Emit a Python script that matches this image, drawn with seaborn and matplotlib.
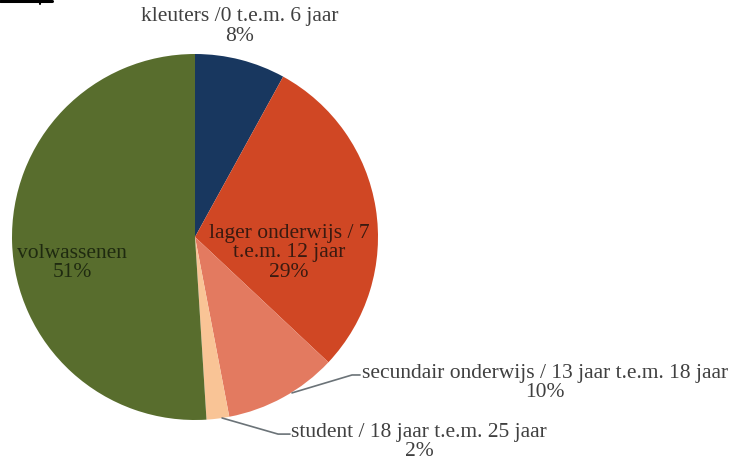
import matplotlib
matplotlib.use("Agg")
import matplotlib.pyplot as plt
import seaborn as sns

# Age groups and their shares (percent)
categories = [
    "kleuters /0 t.e.m. 6 jaar",
    "lager onderwijs / 7\nt.e.m. 12 jaar",
    "secundair onderwijs / 13 jaar t.e.m. 18 jaar",
    "student / 18 jaar t.e.m. 25 jaar",
    "volwassenen",
]
shares = [8, 29, 10, 2, 51]
slice_colors = ["#18375f", "#d04724", "#e37a60", "#f9c496", "#586d2d"]

sns.set_theme(style="white")
plt.rcParams["font.family"] = ["Liberation Serif", "DejaVu Serif"]

W, H = 734, 461
fig = plt.figure(figsize=(W / 100, H / 100), dpi=100)

# pie centre at (195, 237) px, radius 183 px
cx, cy, r = 195, 237, 183
ax = fig.add_axes([(cx - r) / W, (H - cy - r) / H, 2 * r / W, 2 * r / H])

wedges, _ = ax.pie(shares, colors=slice_colors, startangle=90, counterclock=False,
                   radius=1.0, wedgeprops=dict(linewidth=0))
ax.set_xlim(-1, 1)
ax.set_ylim(-1, 1)
ax.set_aspect("equal")
ax.axis("off")

def label(text, value, x, y, color):
    ax.text(x, y, f"{text}\n{value}%", ha="center", va="center", fontsize=15.5,
            color=color, linespacing=1.02, clip_on=False)

outside = "#404040"
label(categories[0], shares[0], 0.246, 1.15, outside)
label(categories[1], shares[1], 0.514, -0.087, "#3a1a10")
label(categories[2], shares[2], 1.913, -0.798, outside)
label(categories[3], shares[3], 1.224, -1.12, outside)
label(categories[4], shares[4], -0.672, -0.142, "#1f2a10")

# leader lines for the two small slices
line_kw = dict(color="#6b7378", lw=1.2, clip_on=False)
ax.plot([0.530, 0.858, 0.902], [-0.852, -0.754, -0.754], **line_kw)
ax.plot([0.148, 0.454, 0.519], [-0.989, -1.077, -1.077], **line_kw)

# rule fragment at the top-left edge
fig.add_artist(plt.Line2D([0, 52 / W], [1 - 1 / H, 1 - 1 / H], color="black", lw=2.2,
                          transform=fig.transFigure))
fig.add_artist(plt.Line2D([40 / W, 40 / W], [1 - 1 / H, 1 - 4 / H], color="black", lw=1.5,
                          transform=fig.transFigure))

fig.savefig("out.png", dpi=100)
